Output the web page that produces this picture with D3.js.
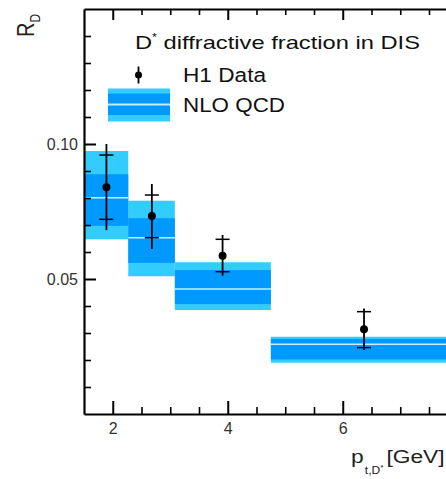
<!DOCTYPE html>
<html>
<head>
<meta charset="utf-8">
<script src="https://cdn.jsdelivr.net/npm/d3@7"></script>
<style>
html,body{margin:0;padding:0;background:#fff;}
svg{display:block;}
text{font-family:"Liberation Sans",Arial,Helvetica,sans-serif;}
</style>
</head>
<body>
<svg id="chart" width="446" height="479"></svg>
<script>
// ---- data ----
const binLo      = [1.5, 2.27, 3.08, 4.75];
const binHi      = [2.27, 3.08, 4.75, 10];
const nloCentral = [0.0801, 0.0653, 0.0463, 0.0258];
const nloInnerLo = [0.0697, 0.0560, 0.0407, 0.0202];
const nloInnerHi = [0.0888, 0.0725, 0.0533, 0.0278];
const nloOuterLo = [0.0647, 0.0510, 0.0385, 0.0190];
const nloOuterHi = [0.0974, 0.0790, 0.0562, 0.0286];
const dataX      = [1.89, 2.68, 3.91, 6.37];
const dataY      = [0.0840, 0.0733, 0.0586, 0.0314];
const statLo     = [0.0721, 0.0653, 0.0527, 0.0246];
const statHi     = [0.0959, 0.0811, 0.0647, 0.0379];
const totLo      = [0.0681, 0.0611, 0.0512, 0.0237];
const totHi      = [0.1000, 0.0852, 0.0663, 0.0391];
const yMajorTicks = [0.05, 0.10];
const yMinorTicks = [0.01,0.02,0.03,0.04,0.06,0.07,0.08,0.09,0.11,0.12,0.13,0.14];
const xMajorTicks = [2, 4, 6, 8, 10];
const xLabelTicks = [2, 4, 6];
const xMinorTicks = [2.5,3,3.5,4.5,5,5.5,6.5,7,7.5,8.5,9,9.5];

const cLight = "#33ccff", cDark = "#0099ff", cLine = "#c6ecff";

const svg = d3.select("#chart");
const x = d3.scaleLinear().domain([1.5, 10]).range([84, 84 + 8.5 * 57.5]);
const y = d3.scaleLinear().domain([0, 0.15]).range([414, 9]);

const bins = binLo.map((lo, i) => ({lo, hi: binHi[i], c: nloCentral[i],
  il: nloInnerLo[i], ih: nloInnerHi[i], ol: nloOuterLo[i], oh: nloOuterHi[i]}));
const pts = dataX.map((xx, i) => ({x: xx, y: dataY[i], sl: statLo[i], sh: statHi[i], tl: totLo[i], th: totHi[i]}));

// NLO bands
const gB = svg.append("g");
gB.selectAll(".outer").data(bins).join("rect")
  .attr("x", d => x(d.lo)).attr("width", d => x(d.hi) - x(d.lo))
  .attr("y", d => y(d.oh)).attr("height", d => y(d.ol) - y(d.oh)).attr("fill", cLight);
gB.selectAll(".inner").data(bins).join("rect")
  .attr("x", d => x(d.lo)).attr("width", d => x(d.hi) - x(d.lo))
  .attr("y", d => y(d.ih)).attr("height", d => y(d.il) - y(d.ih)).attr("fill", cDark);
gB.selectAll(".cen").data(bins).join("line")
  .attr("x1", d => x(d.lo)).attr("x2", d => x(d.hi))
  .attr("y1", d => y(d.c)).attr("y2", d => y(d.c)).attr("stroke", cLine).attr("stroke-width", 1.5);

// data points
const gP = svg.append("g");
gP.selectAll(".tot").data(pts).join("line")
  .attr("x1", d => x(d.x)).attr("x2", d => x(d.x))
  .attr("y1", d => y(d.th)).attr("y2", d => y(d.tl)).attr("stroke", "#000").attr("stroke-width", 1.8);
["sl", "sh"].forEach(k => {
  gP.selectAll(".cap" + k).data(pts).join("line")
    .attr("x1", d => x(d.x) - 7).attr("x2", d => x(d.x) + 7)
    .attr("y1", d => y(d[k])).attr("y2", d => y(d[k])).attr("stroke", "#000").attr("stroke-width", 1.5);
});
gP.selectAll("circle").data(pts).join("circle")
  .attr("cx", d => x(d.x)).attr("cy", d => y(d.y)).attr("r", 4).attr("fill", "#000");

// axes
const gA = svg.append("g");
const fmt = d3.format(".2f");
// left axis
gA.append("g").attr("transform", `translate(${x(1.5)},0)`)
  .call(d3.axisLeft(y).tickValues(yMajorTicks).tickSizeInner(-12).tickSizeOuter(0).tickPadding(6).tickFormat(fmt))
  .call(g => g.select(".domain").attr("stroke-width", 2.2))
  .call(g => g.selectAll(".tick line").attr("stroke-width", 2))
  .call(g => g.selectAll("text").attr("font-size", 16).attr("fill", "#333").attr("font-family", "Liberation Sans, Arial, sans-serif"));
gA.append("g").attr("transform", `translate(${x(1.5)},0)`)
  .call(d3.axisLeft(y).tickValues(yMinorTicks).tickSizeInner(-7).tickSizeOuter(0).tickFormat(""))
  .call(g => g.select(".domain").remove())
  .call(g => g.selectAll(".tick line").attr("stroke-width", 1.6));
// bottom axis
gA.append("g").attr("transform", `translate(0,${y(0)})`)
  .call(d3.axisBottom(x).tickValues(xMajorTicks).tickSizeInner(-13).tickSizeOuter(0).tickFormat(""))
  .call(g => g.select(".domain").attr("stroke-width", 2.2))
  .call(g => g.selectAll(".tick line").attr("stroke-width", 2));
gA.append("g").attr("transform", `translate(0,${y(0)})`)
  .call(d3.axisBottom(x).tickValues(xLabelTicks).tickSize(0).tickPadding(9).tickFormat(d3.format("d")))
  .call(g => g.select(".domain").remove())
  .call(g => g.selectAll("text").attr("font-size", 16).attr("fill", "#333").attr("font-family", "Liberation Sans, Arial, sans-serif"));
gA.append("g").attr("transform", `translate(0,${y(0)})`)
  .call(d3.axisBottom(x).tickValues(xMinorTicks).tickSizeInner(-7).tickSizeOuter(0).tickFormat(""))
  .call(g => g.select(".domain").remove())
  .call(g => g.selectAll(".tick line").attr("stroke-width", 1.6));
// top frame
gA.append("g").attr("transform", `translate(0,${y(0.15)})`)
  .call(d3.axisTop(x).tickValues(xMajorTicks).tickSizeInner(-11).tickSizeOuter(0).tickFormat(""))
  .call(g => g.select(".domain").attr("stroke-width", 2.2))
  .call(g => g.selectAll(".tick line").attr("stroke-width", 2));
gA.append("g").attr("transform", `translate(0,${y(0.15)})`)
  .call(d3.axisTop(x).tickValues(xMinorTicks).tickSizeInner(-6).tickSizeOuter(0).tickFormat(""))
  .call(g => g.select(".domain").remove())
  .call(g => g.selectAll(".tick line").attr("stroke-width", 1.6));

// axis titles
const yt = svg.append("text").attr("transform", "translate(34,37) rotate(-90) scale(1,1.15)")
  .attr("font-size", 20).attr("fill", "#222");
yt.append("tspan").text("R");
yt.append("tspan").attr("font-size", 12).attr("dy", 5).text("D");

const xtg = svg.append("g").attr("transform", "translate(351,0) scale(1.2,1)");
const xt = xtg.append("text").attr("x", 0).attr("y", 463).attr("font-size", 19).attr("fill", "#222");
xt.append("tspan").text("p");
xt.append("tspan").attr("font-size", 10).attr("dy", 11.5).attr("dx", 1).text("t,D");
xt.append("tspan").attr("font-size", 7).attr("dy", -4).text("*");
xt.append("tspan").attr("x", 29.5).attr("dy", -7.5).text("[GeV]");

// legend
const lg = svg.append("g");
const t1 = lg.append("text").attr("x", 135).attr("y", 48.5).attr("font-size", 19).attr("fill", "#111")
  .attr("textLength", 285).attr("lengthAdjust", "spacingAndGlyphs");
t1.append("tspan").text("D");
t1.append("tspan").attr("font-size", 10).attr("dy", -8).text("*");
t1.append("tspan").attr("dy", 8).text(" diffractive fraction in DIS");

lg.append("line").attr("x1", 138.5).attr("x2", 138.5).attr("y1", 66.5).attr("y2", 83.5)
  .attr("stroke", "#000").attr("stroke-width", 1.8);
lg.append("circle").attr("cx", 138.5).attr("cy", 75).attr("r", 3.5).attr("fill", "#000");
lg.append("text").attr("x", 183).attr("y", 81.7).attr("font-size", 20).attr("fill", "#111")
  .attr("textLength", 83).attr("lengthAdjust", "spacingAndGlyphs").text("H1 Data");

lg.append("rect").attr("x", 108).attr("y", 88.5).attr("width", 62).attr("height", 33).attr("fill", cLight);
lg.append("rect").attr("x", 108).attr("y", 93.5).attr("width", 62).attr("height", 21.5).attr("fill", cDark);
lg.append("line").attr("x1", 108).attr("x2", 170).attr("y1", 104.5).attr("y2", 104.5)
  .attr("stroke", cLine).attr("stroke-width", 1.8);
lg.append("text").attr("x", 183).attr("y", 111.8).attr("font-size", 20).attr("fill", "#111")
  .attr("textLength", 102).attr("lengthAdjust", "spacingAndGlyphs").text("NLO QCD");
</script>
</body>
</html>
